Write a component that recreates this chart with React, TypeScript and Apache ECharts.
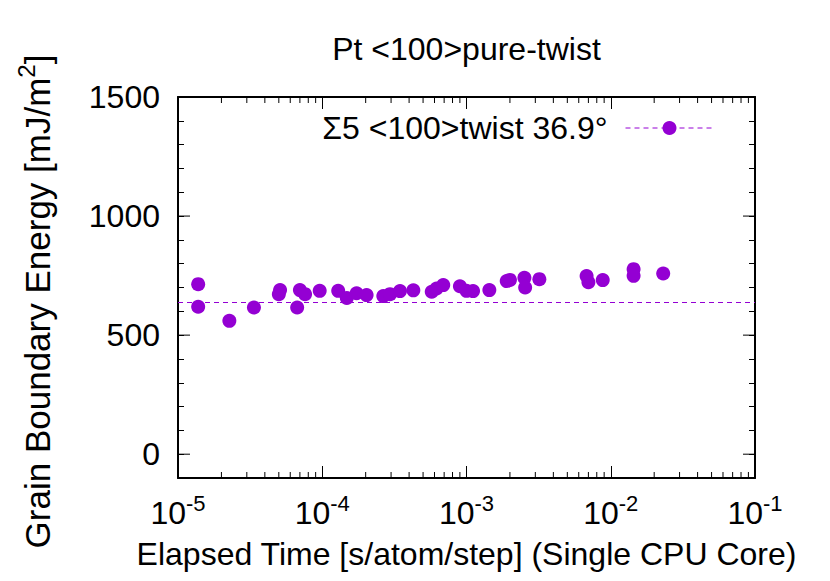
import React, { useEffect, useRef } from 'react';
import * as echarts from 'echarts';

// ---- data ----
const chartTitle = 'Pt <100>pure-twist';
const seriesName = 'Σ5 <100>twist 36.9°';
const xAxisName = 'Elapsed Time [s/atom/step] (Single CPU Core)';
const yAxisNameMain = 'Grain Boundary Energy [mJ/m';

const elapsedTime = [
  1.38e-5, 1.38e-5, 2.27e-5, 3.36e-5, 5.1e-5, 5.0e-5, 6.7e-5, 7.0e-5, 7.6e-5, 9.6e-5,
  1.29e-4, 1.48e-4, 1.73e-4, 2.03e-4, 2.65e-4, 2.95e-4, 3.46e-4, 4.28e-4,
  5.74e-4, 6.2e-4, 6.9e-4, 9.0e-4, 1.0e-3, 1.11e-3, 1.44e-3,
  1.9e-3, 2.0e-3, 2.52e-3, 2.55e-3, 3.2e-3, 6.8e-3, 7.0e-3, 8.8e-3,
  1.44e-2, 1.44e-2, 2.31e-2,
];
const gbEnergy = [
  714, 619, 560, 616, 689, 672, 616, 689, 672, 686,
  686, 656, 676, 668, 664, 672, 685, 688,
  682, 696, 710, 705, 686, 685, 689,
  727, 732, 741, 700, 735, 748, 722, 731,
  777, 749, 759,
];
const referenceEnergy = 638;

const xMin = 1e-5;
const xMax = 1e-1;
const yMin = -100;
const yMax = 1500;
const yLabelStep = 500;
const yMajorTicks = [0, 500, 1000, 1500];
const xMinorDecades = [-5, -4, -3, -2];
const xMinorMultipliers = [2, 3, 4, 5, 6, 7, 8, 9];

const PURPLE = '#9400d3';
const FONT = '"Liberation Sans", Arial, Helvetica, sans-serif';
const FS = 32;
const FS_YNAME = 35;
const SUP = { fontSize: 22, fontFamily: FONT, color: '#000', padding: [0, 0, 20, 0], verticalAlign: 'bottom' as const };
const SUP_Y = { fontSize: 24, fontFamily: FONT, color: '#000', padding: [0, 0, 22, 0], verticalAlign: 'bottom' as const };

const xMinorTicks: number[] = [];
xMinorDecades.forEach((d) => {
  xMinorMultipliers.forEach((k) => {
    xMinorTicks.push(Number((k * Math.pow(10, d)).toPrecision(3)));
  });
});

export default function App() {
  const ref = useRef<HTMLDivElement>(null);

  useEffect(() => {
    if (!ref.current) return;
    const chart = echarts.init(ref.current, undefined, { renderer: 'svg' });

    const points = elapsedTime.map((t, i) => [t, gbEnergy[i]]);

    const commonX = {
      type: 'log' as const,
      logBase: 10,
      min: xMin,
      max: xMax,
      splitLine: { show: false },
      axisLine: { show: true, onZero: false, lineStyle: { color: '#000', width: 2 } },
      axisTick: { show: true, inside: true, length: 12, lineStyle: { color: '#000', width: 1 } },
    };
    const commonY = {
      type: 'value' as const,
      min: yMin,
      max: yMax,
      interval: 100,
      splitLine: { show: false },
      axisLine: { show: true, onZero: false, lineStyle: { color: '#000', width: 2 } },
      axisTick: { show: true, inside: true, length: 6, lineStyle: { color: '#000', width: 1 } },
    };

    chart.setOption({
      animation: false,
      textStyle: { fontFamily: FONT },
      title: {
        text: chartTitle,
        left: 461.5,
        top: 28,
        textAlign: 'center',
        textStyle: { fontSize: FS, fontWeight: 'normal', fontFamily: FONT, color: '#000' },
      },
      legend: {
        data: [{ name: seriesName }],
        right: 111,
        top: 107,
        align: 'right',
        itemWidth: 88,
        itemHeight: 17.5,
        selectedMode: false,
        textStyle: { fontSize: FS, fontFamily: FONT, color: '#000', padding: [0, 13, 0, 0] },
        itemStyle: { color: PURPLE },
        lineStyle: { color: PURPLE, width: 1, type: [5, 4] },
      },
      grid: { left: 178, right: 75, top: 97, bottom: 103, containLabel: false },
      xAxis: [
        {
          ...commonX,
          position: 'bottom',
          name: xAxisName,
          nameLocation: 'middle',
          nameGap: 60,
          nameTextStyle: { fontSize: FS, fontFamily: FONT, color: '#000' },
          axisLabel: {
            show: true,
            margin: 14,
            fontSize: FS,
            fontFamily: FONT,
            color: '#000',
            formatter: (v: number) => '10{sup|' + Math.round(Math.log10(v)) + '}',
            rich: { sup: SUP },
          },
        },
        { ...commonX, position: 'top', axisLabel: { show: false } },
      ],
      yAxis: [
        {
          ...commonY,
          position: 'left',
          name: yAxisNameMain + '{sup|2}]',
          nameLocation: 'middle',
          nameRotate: 90,
          nameGap: 118,
          nameTextStyle: {
            fontSize: FS_YNAME,
            fontFamily: FONT,
            color: '#000',
            padding: [0, 28, 0, 0],
            rich: { sup: SUP_Y },
          },
          axisLabel: {
            show: true,
            margin: 18,
            fontSize: FS,
            fontFamily: FONT,
            color: '#000',
            formatter: (v: number) => (v >= 0 && v % yLabelStep === 0 ? String(v) : ''),
          },
        },
        { ...commonY, position: 'right', axisLabel: { show: false } },
      ],
      series: [
        {
          type: 'scatter',
          name: 'points',
          xAxisIndex: 0,
          yAxisIndex: 0,
          data: points,
          symbol: 'circle',
          symbolSize: 14,
          itemStyle: { color: PURPLE, opacity: 1 },
          z: 3,
          silent: true,
        },
        {
          type: 'line',
          name: seriesName,
          xAxisIndex: 0,
          yAxisIndex: 0,
          data: [],
          symbol: 'circle',
          showSymbol: false,
          itemStyle: { color: PURPLE },
          lineStyle: { color: PURPLE, width: 1, type: [5, 4] },
          markLine: {
            silent: true,
            symbol: ['none', 'none'],
            label: { show: false },
            lineStyle: { color: PURPLE, width: 1, type: [5, 4] },
            data: [{ yAxis: referenceEnergy }],
          },
          z: 2,
        },
        {
          type: 'custom',
          name: 'xMinor',
          xAxisIndex: 0,
          yAxisIndex: 0,
          silent: true,
          data: xMinorTicks.map((v) => [v, yMin]),
          encode: { x: 0, y: 1 },
          renderItem: (_p: any, api: any) => {
            const v = api.value(0);
            const b = api.coord([v, yMin]);
            const t = api.coord([v, yMax]);
            return {
              type: 'group',
              children: [
                { type: 'line', shape: { x1: b[0], y1: b[1], x2: b[0], y2: b[1] - 6 }, style: { stroke: '#000', lineWidth: 1 } },
                { type: 'line', shape: { x1: t[0], y1: t[1], x2: t[0], y2: t[1] + 6 }, style: { stroke: '#000', lineWidth: 1 } },
              ],
            };
          },
          z: 4,
        },
        {
          type: 'custom',
          name: 'yMajor',
          xAxisIndex: 0,
          yAxisIndex: 0,
          silent: true,
          data: yMajorTicks.map((v) => [xMin, v]),
          encode: { x: 0, y: 1 },
          renderItem: (_p: any, api: any) => {
            const v = api.value(1);
            const l = api.coord([xMin, v]);
            const r = api.coord([xMax, v]);
            return {
              type: 'group',
              children: [
                { type: 'line', shape: { x1: l[0], y1: l[1], x2: l[0] + 12, y2: l[1] }, style: { stroke: '#000', lineWidth: 1 } },
                { type: 'line', shape: { x1: r[0], y1: r[1], x2: r[0] - 12, y2: r[1] }, style: { stroke: '#000', lineWidth: 1 } },
              ],
            };
          },
          z: 4,
        },
      ],
    });

    return () => chart.dispose();
  }, []);

  return <div ref={ref} style={{ width: 830, height: 581, position: 'absolute', left: 0, top: 0 }} />;
}
